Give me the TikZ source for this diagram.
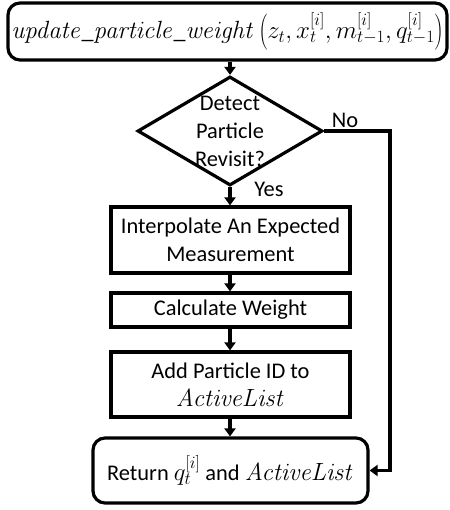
\documentclass[tikz,border=0pt]{standalone}
\usepackage[no-math]{fontspec}
\setmainfont{Carlito}
\usetikzlibrary{shapes.geometric,arrows.meta}
\newcommand\myal{{\fontsize{25}{28}\selectfont$\mathit{ActiveList}$}}
\begin{document}
\begin{tikzpicture}[x=1pt,y=-1pt,
  every node/.style={font=\fontsize{22.4}{28}\selectfont},
  box/.style={draw,line width=3.2pt,minimum width=239pt,inner sep=0pt,align=center},
  rbox/.style={draw,line width=3.2pt,rounded corners=12pt,inner sep=0pt,align=center},
  conn/.style={line width=3.2pt,-{Triangle[length=8pt,width=11pt]}},
  lbl/.style={inner sep=0pt}]
\useasboundingbox (0,0) rectangle (449,510);
\node[rbox,minimum width=439pt,minimum height=57pt] (top) at (227.5,31.5)
  {\fontsize{24}{28}\selectfont$\mathit{update\_particle\_weight}\left(z_t,x_t^{[i]},m_{t-1}^{[i]},q_{t-1}^{[i]}\right)$};
\node[diamond,draw,line width=3.2pt,minimum width=185pt,minimum height=109pt,inner sep=0pt] (d) at (230,131) {};
\node[align=center,inner sep=0pt] (dt) at (230,131) {Detect\\Particle\\Revisit?};
\node[box,minimum height=66pt] (b1) at (230.5,240) {Interpolate An Expected\\Measurement};
\node[box,minimum height=34pt] (b2) at (230.5,310) {Calculate Weight};
\node[box,minimum height=65pt] (b3) at (230.5,384.5) {Add Particle ID to\\\myal};
\node[rbox,minimum width=275pt,minimum height=65pt] (ret) at (230.5,470.5)
  {Return {\fontsize{25}{28}\selectfont$q_t^{[i]}$} and \myal};
\node[lbl] (no) at (345,120) {No};
\node[lbl] (yes) at (269,189) {Yes};
\coordinate (c1) at (390,131);
\coordinate (c2) at (390,470.5);
\draw[conn] (top.south -| d.north) -- (d.north);
\draw[conn] (d.south) -- (b1.north -| d.south);
\draw[conn] (b1.south -| d.south) -- (b2.north -| d.south);
\draw[conn] (b2.south -| d.south) -- (b3.north -| d.south);
\draw[conn] (b3.south -| d.south) -- (ret.north -| d.south);
\draw[conn,line join=miter] (d.east) -- (c1) -- (c2) -- (ret.east);
\end{tikzpicture}
\end{document}
